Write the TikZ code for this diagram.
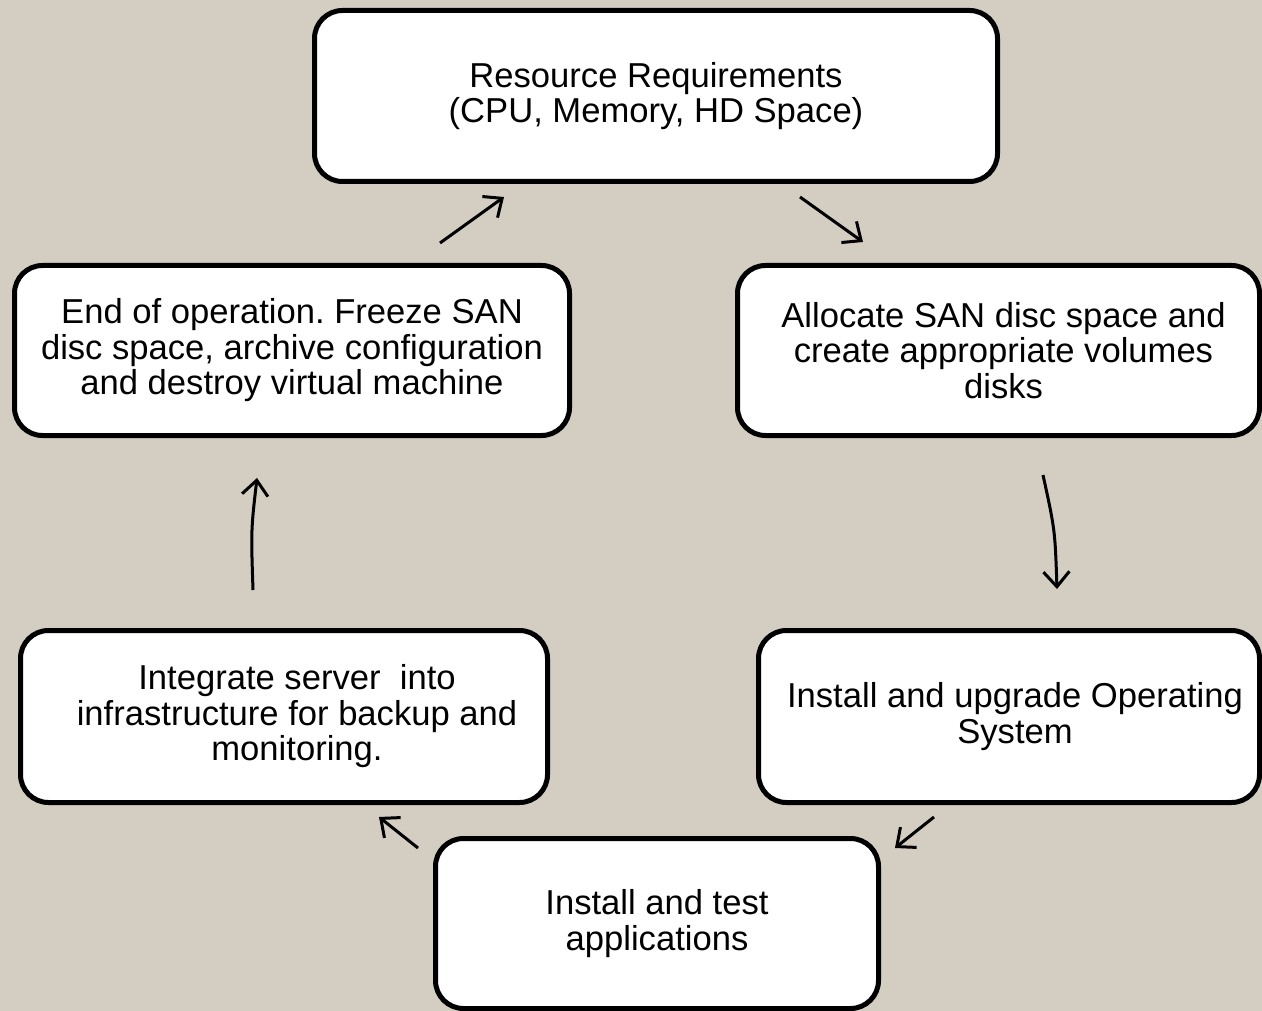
\documentclass[tikz,border=0pt]{standalone}
\usepackage{fontspec}
\setmainfont{Liberation Sans}
\usetikzlibrary{arrows.meta}
\definecolor{bgc}{RGB}{212,205,194}
\frenchspacing
\begin{document}
\begin{tikzpicture}[x=1pt,y=-1pt,
  box/.style={draw=black, line width=5pt, fill=white, rounded corners=28pt,
    inner sep=0pt, align=center, font=\fontsize{34.6}{35.5}\selectfont},
  conn/.style={line width=3pt, -{Straight Barb[length=15pt,width=26pt,line width=3pt]}}]
\fill[bgc] (0,0) rectangle (1262,1011);
\useasboundingbox (0,0) rectangle (1262,1011);
\node[box, minimum width=683pt, minimum height=171pt] (top) at (656,96)
  {Resource Requirements\\(CPU, Memory, HD Space)};
\node[box, minimum width=555pt, minimum height=170pt] (lm) at (292,350.5)
  {End of operation. Freeze SAN\\disc space, archive configuration\\and destroy virtual machine};
\node[box, minimum width=522pt, minimum height=170pt] (rm) at (998.5,350.5)
  {\hspace*{10pt}Allocate SAN disc space and\\\hspace*{10pt}create appropriate volumes\\\hspace*{10pt}disks};
\node[box, minimum width=527pt, minimum height=172pt] (lb) at (284,716.5)
  {\hspace*{26pt}Integrate server\ \ into\\\hspace*{26pt}infrastructure for backup and\\\hspace*{26pt}monitoring.};
\node[box, minimum width=501pt, minimum height=172pt] (rb) at (1009,716.5)
  {\hspace*{12pt}Install and upgrade Operating\\\hspace*{12pt}System};
\node[box, minimum width=443pt, minimum height=170pt] (bt) at (657,923.5)
  {Install and test\\applications};
\coordinate (a1s) at (440,243); \coordinate (a1e) at (504,197);
\coordinate (a2s) at (800,197); \coordinate (a2e) at (863,242);
\coordinate (a3s) at (1043,475); \coordinate (a3c) at (1055,530); \coordinate (a3e) at (1057,589);
\coordinate (a4s) at (253,590); \coordinate (a4c) at (251,530); \coordinate (a4e) at (257,478);
\coordinate (a5s) at (418,848); \coordinate (a5e) at (379,817);
\coordinate (a6s) at (934,817); \coordinate (a6e) at (895,848);
\draw[conn] (a1s) -- (a1e);
\draw[conn] (a2s) -- (a2e);
\draw[conn] (a3s) .. controls (a3c) .. (a3e);
\draw[conn] (a4s) .. controls (a4c) .. (a4e);
\draw[conn] (a5s) -- (a5e);
\draw[conn] (a6s) -- (a6e);
\end{tikzpicture}
\end{document}
